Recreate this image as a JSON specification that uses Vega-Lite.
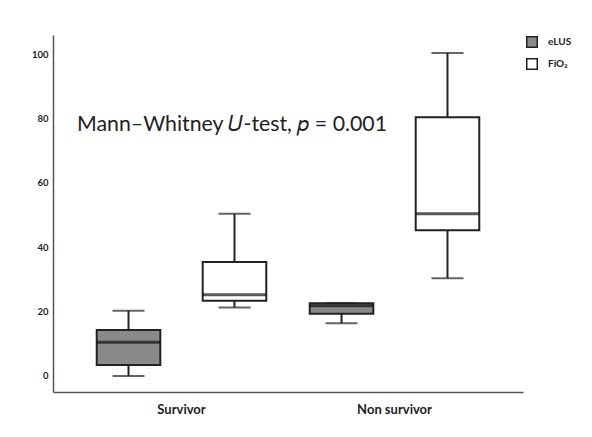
{
  "$schema": "https://vega.github.io/schema/vega-lite/v6.json",
  "width": 470,
  "height": 357,
  "autosize": {"type": "none"},
  "padding": {"left": 53, "top": 35, "right": 69, "bottom": 45},
  "background": "white",
  "config": {
    "view": {"stroke": null},
    "font": "Lato"
  },
  "data": {
    "values": [
      {"group": "Survivor", "measure": "eLUS", "min": 0, "q1": 3.4, "median": 10.5, "q3": 14.3, "max": 20.3},
      {"group": "Survivor", "measure": "FiO₂", "min": 21.3, "q1": 23.4, "median": 25.2, "q3": 35.4, "max": 50.4},
      {"group": "Non survivor", "measure": "eLUS", "min": 16.4, "q1": 19.3, "median": 21.8, "q3": 22.6, "max": 22.6},
      {"group": "Non survivor", "measure": "FiO₂", "min": 30.4, "q1": 45.3, "median": 50.4, "q3": 80.4, "max": 100.4}
    ]
  },
  "encoding": {
    "x": {
      "field": "group", "type": "nominal", "sort": ["Survivor", "Non survivor"],
      "scale": {"domain": ["Survivor", "Non survivor"], "paddingInner": 0, "paddingOuter": 0.1033},
      "axis": {
        "title": null, "labelAngle": 0, "ticks": false, "labelFontSize": 13, "labelFontWeight": "bold",
        "labelColor": "#222222", "labelPadding": 11, "labelDx": -13,
        "domainColor": "#555555", "domainWidth": 1.5
      }
    },
    "xOffset": {
      "field": "measure", "type": "nominal", "sort": ["eLUS", "FiO₂"],
      "scale": {"domain": ["eLUS", "FiO₂"], "paddingInner": 0.4, "paddingOuter": 0.205}
    }
  },
  "layer": [
    {
      "mark": {"type": "rule", "color": "#222222", "strokeWidth": 2},
      "encoding": {
        "y": {
          "field": "min", "type": "quantitative",
          "scale": {"domain": [-5, 106], "nice": false, "zero": false},
          "axis": {
            "title": null, "values": [0, 20, 40, 60, 80, 100], "ticks": false, "grid": false,
            "labelFontSize": 9.5, "labelFontWeight": "bold", "labelColor": "#222222", "labelPadding": 5,
            "domainColor": "#555555", "domainWidth": 1.5
          }
        },
        "y2": {"field": "max"}
      }
    },
    {
      "mark": {"type": "tick", "color": "#222222", "size": 32, "thickness": 2},
      "encoding": {"y": {"field": "min", "type": "quantitative"}}
    },
    {
      "mark": {"type": "tick", "color": "#222222", "size": 32, "thickness": 2},
      "encoding": {"y": {"field": "max", "type": "quantitative"}}
    },
    {
      "mark": {"type": "bar", "stroke": "#222222", "strokeWidth": 2},
      "encoding": {
        "y": {"field": "q1", "type": "quantitative"},
        "y2": {"field": "q3"},
        "fill": {
          "field": "measure", "type": "nominal", "sort": ["eLUS", "FiO₂"],
          "scale": {"domain": ["eLUS", "FiO₂"], "range": ["#8a8a8a", "#ffffff"]},
          "legend": {
            "title": null, "orient": "none", "legendX": 473, "legendY": 1,
            "symbolType": "square", "symbolSize": 110, "symbolStrokeColor": "#222222", "symbolStrokeWidth": 1.5,
            "labelFontSize": 10, "labelFontWeight": "bold", "labelColor": "#222222", "labelOffset": 10,
            "rowPadding": 4
          }
        }
      }
    },
    {
      "mark": {"type": "tick", "color": "#111111", "size": 63, "thickness": 3},
      "encoding": {"y": {"field": "median", "type": "quantitative"}}
    },
    {
      "data": {"values": [{"label": "Mann–Whitney 𝑈-test, 𝑝 = 0.001", "y": 78}]},
      "mark": {"type": "text", "align": "left", "baseline": "middle", "fontSize": 21.3, "color": "#222222", "font": "Lato", "dx": 2},
      "encoding": {
        "x": {"datum": "Survivor"},
        "xOffset": {"value": 0},
        "y": {"field": "y", "type": "quantitative"},
        "text": {"field": "label"}
      }
    }
  ]
}
